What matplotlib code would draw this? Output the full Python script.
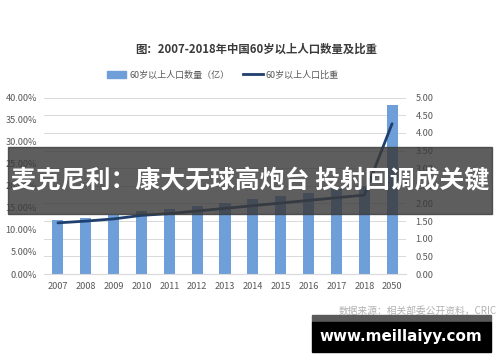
import matplotlib
matplotlib.use("Agg")
import matplotlib.pyplot as plt
from matplotlib.patches import Rectangle
from matplotlib.lines import Line2D
import numpy as np

plt.rcParams["font.family"] = ["Noto Sans CJK SC", "DejaVu Sans"]

years = ["2007", "2008", "2009", "2010", "2011", "2012", "2013",
         "2014", "2015", "2016", "2017", "2018", "2050"]
pop_100m = [1.53, 1.59, 1.67, 1.78, 1.85, 1.94, 2.02,
            2.12, 2.22, 2.31, 2.41, 2.49, 4.80]
share_pct = [11.6, 12.0, 12.5, 13.3, 13.7, 14.3, 14.9,
             15.5, 16.1, 16.7, 17.3, 17.9, 34.1]

BAR = "#6f9fd8"
LINE = "#1f3f6e"
GRID = "#d9d9d9"
TICK = "#595959"

W, H = 500, 362
fig = plt.figure(figsize=(5.0, 3.62), dpi=100)
fig.patch.set_facecolor("white")


def fx(px):
    return px / W


def fy(py):
    return 1 - py / H


left, right, top, bottom = 44, 406, 97.7, 274
ax_r = fig.add_axes([fx(left), fy(bottom), fx(right - left), fy(top) - fy(bottom)])
ax_l = ax_r.twinx()
# line axis (left scale) on top of the bars
ax_l.yaxis.tick_left()
ax_l.yaxis.set_label_position("left")
ax_r.yaxis.tick_right()
ax_l.set_zorder(ax_r.get_zorder() + 1)
ax_l.patch.set_visible(False)

x = np.arange(len(years))
ax_r.bar(x, pop_100m, width=0.4, color=BAR, zorder=2)
ax_r.set_ylim(0, 5)
ax_r.set_yticks(np.arange(0, 5.01, 0.5))
ax_r.set_yticklabels([f"{v:.2f}" for v in np.arange(0, 5.01, 0.5)])
ax_r.grid(axis="y", color=GRID, lw=0.7)
ax_r.set_axisbelow(True)

ax_l.plot(x, np.array(share_pct) / 100, color=LINE, lw=2.0, solid_capstyle="round")
ax_l.set_ylim(0, 0.40)
ax_l.set_yticks(np.arange(0, 0.401, 0.05))
ax_l.set_yticklabels([f"{v * 100:.2f}%" for v in np.arange(0, 0.401, 0.05)])

ax_r.set_xlim(-0.5, len(years) - 0.5)
ax_r.set_xticks(x)
ax_r.set_xticklabels(years)

for a in (ax_r, ax_l):
    for s in a.spines.values():
        s.set_visible(False)
    a.tick_params(length=0, colors=TICK, labelsize=6.6)
ax_r.spines["bottom"].set_visible(True)
ax_r.spines["bottom"].set_color(GRID)
ax_r.tick_params(axis="x", pad=6)
ax_r.tick_params(axis="y", pad=7)
ax_l.tick_params(axis="y", pad=5)

fig.text(0.513, fy(49), "图：2007-2018年中国60岁以上人口数量及比重",
         ha="center", va="center", fontsize=8.2, fontweight="bold", color="#3a3a3a")

handles = [Rectangle((0, 0), 1, 1, color=BAR),
           Line2D([0], [0], color=LINE, lw=2.0)]
fig.legend(handles, ["60岁以上人口数量（亿）", "60岁以上人口比重"],
           loc="center", bbox_to_anchor=(0.445, fy(75)), ncol=2, frameon=False,
           fontsize=6.5, labelcolor=TICK, handlelength=2.2, handletextpad=0.3,
           columnspacing=1.5)

# overlay banner
fig.patches.append(Rectangle((fx(8), fy(214)), fx(484), fy(147) - fy(214),
                             transform=fig.transFigure, color="#3a3a3a", alpha=0.82,
                             zorder=5))
fig.text(0.5, fy(181), "麦克尼利：康大无球高炮台 投射回调成关键",
         ha="center", va="center", fontsize=17.9, fontweight="bold",
         color="white", zorder=6)

fig.text(fx(497), fy(311), "数据来源：相关部委公开资料，CRIC", ha="right", va="center",
         fontsize=7, color="#b0b0b0")

fig.patches.append(Rectangle((fx(312), fy(322)), fx(179), fy(315) - fy(322),
                             transform=fig.transFigure, color="#5a5a5a", zorder=5))
fig.patches.append(Rectangle((fx(312), fy(352)), fx(179), fy(322) - fy(352),
                             transform=fig.transFigure, color="black", zorder=5))
fig.text(fx(401), fy(337), "www.meillaiyy.com", ha="center", va="center",
         fontsize=10.9, fontweight="bold", color="white", family="DejaVu Sans",
         zorder=6)

fig.savefig("out.png", dpi=100)
